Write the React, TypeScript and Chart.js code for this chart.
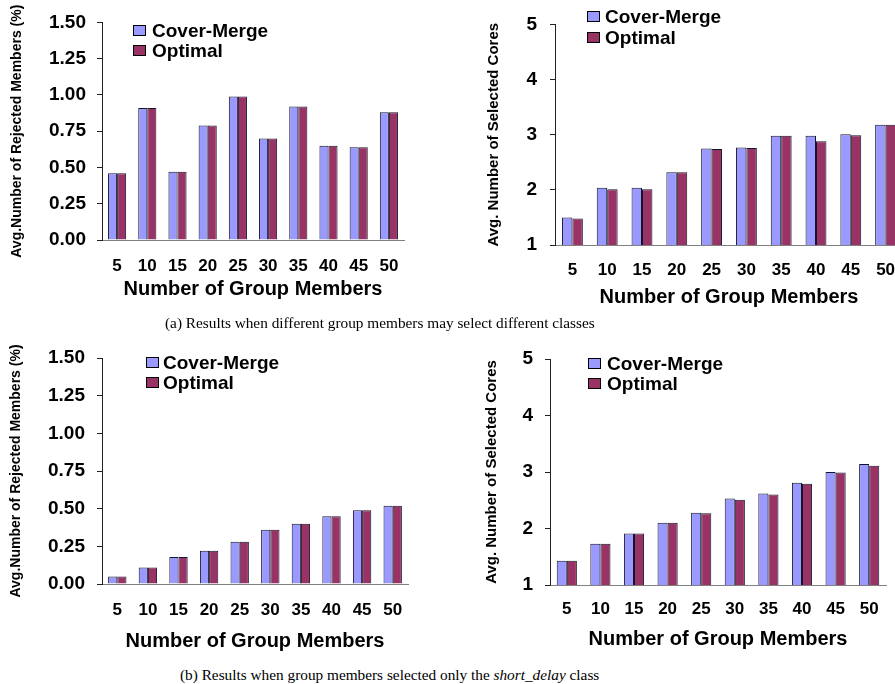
import React, { useEffect, useRef } from "react";
import { Chart, registerables } from "chart.js";

Chart.register(...registerables);

// ---------- data ----------
const groupMembers = ["5", "10", "15", "20", "25", "30", "35", "40", "45", "50"];
const seriesNames = ["Cover-Merge", "Optimal"];
const seriesColors = ["#9999FF", "#993366"];

// (a) different classes
const rejectedA_coverMerge = [0.46, 0.91, 0.47, 0.79, 0.99, 0.7, 0.92, 0.65, 0.64, 0.88];
const rejectedA_optimal = [0.46, 0.91, 0.47, 0.79, 0.99, 0.7, 0.92, 0.65, 0.64, 0.88];
const coresA_coverMerge = [1.5, 2.04, 2.04, 2.32, 2.75, 2.77, 2.98, 2.98, 3.01, 3.18];
const coresA_optimal = [1.48, 2.01, 2.01, 2.32, 2.74, 2.76, 2.98, 2.88, 2.99, 3.18];

// (b) short_delay class only
const rejectedB_coverMerge = [0.05, 0.11, 0.18, 0.22, 0.28, 0.36, 0.4, 0.45, 0.49, 0.52];
const rejectedB_optimal = [0.05, 0.11, 0.18, 0.22, 0.28, 0.36, 0.4, 0.45, 0.49, 0.52];
const coresB_coverMerge = [1.43, 1.73, 1.91, 2.1, 2.28, 2.53, 2.62, 2.81, 3.0, 3.14];
const coresB_optimal = [1.43, 1.73, 1.91, 2.1, 2.27, 2.51, 2.6, 2.79, 2.99, 3.11];

const rejectedTicks = [0, 0.25, 0.5, 0.75, 1.0, 1.25, 1.5];
const coresTicks = [1, 2, 3, 4, 5];

const xTitle = "Number of Group Members";
const rejectedTitle = "Avg.Number of Rejected Members (%)";
const coresTitle = "Avg. Number of Selected Cores";
const captionA = "(a) Results when different group members may select different classes";
const captionB1 = "(b) Results when group members selected only the ";
const captionB2 = "short_delay";
const captionB3 = " class";

const FONT = "'Liberation Sans', Arial, Helvetica, sans-serif";

// ---------- legend drawn inside the plot ----------
const insideLegend = {
  id: "insideLegend",
  afterDraw(chart: any, _args: any, opts: any) {
    const ctx = chart.ctx;
    ctx.save();
    ctx.font = `bold ${opts.fontSize}px ${FONT}`;
    ctx.textBaseline = "middle";
    ctx.textAlign = "left";
    chart.data.datasets.forEach((ds: any, i: number) => {
      const y = opts.y + i * opts.rowGap;
      ctx.fillStyle = ds.backgroundColor;
      ctx.fillRect(opts.x, y, opts.boxW, opts.boxH);
      ctx.strokeStyle = "#000";
      ctx.lineWidth = 1;
      ctx.strokeRect(opts.x + 0.5, y + 0.5, opts.boxW - 1, opts.boxH - 1);
      ctx.fillStyle = "#000";
      ctx.fillText(ds.label, opts.textX, y + opts.boxH / 2 + 1);
    });
    ctx.restore();
  },
};

type PanelSpec = {
  left: number;
  top: number;
  width: number;
  height: number;
  area: { left: number; right: number; top: number; bottom: number };
  yTicks: number[];
  decimals: number;
  yTitle: string;
  yTitleSize: number;
  yTickPad: number;
  yTitlePad: number;
  xTickPad: number;
  xTitlePad: number;
  legend: { x: number; y: number; rowGap: number; textX: number };
  cm: number[];
  opt: number[];
};

function Panel({ spec }: { spec: PanelSpec }) {
  const ref = useRef<HTMLCanvasElement | null>(null);
  useEffect(() => {
    if (!ref.current) return;
    const s = spec;
    const chart = new Chart(ref.current, {
      type: "bar",
      data: {
        labels: groupMembers,
        datasets: [
          {
            label: seriesNames[0],
            data: s.cm,
            backgroundColor: seriesColors[0],
            borderColor: "#15152a",
            borderWidth: 1,
            categoryPercentage: 0.6,
            barPercentage: 1.0,
          },
          {
            label: seriesNames[1],
            data: s.opt,
            backgroundColor: seriesColors[1],
            borderColor: "#15152a",
            borderWidth: 1,
            categoryPercentage: 0.6,
            barPercentage: 1.0,
          },
        ],
      },
      options: {
        animation: false,
        responsive: false,
        maintainAspectRatio: false,
        layout: {
          padding: {
            left: 0,
            top: s.area.top,
            right: s.width - s.area.right,
            bottom: 0,
          },
        },
        plugins: {
          legend: { display: false },
          tooltip: { enabled: false },
          insideLegend: {
            x: s.legend.x,
            y: s.legend.y,
            rowGap: s.legend.rowGap,
            textX: s.legend.textX,
            boxW: 13,
            boxH: 11,
            fontSize: 19,
          },
        } as any,
        scales: {
          x: {
            grid: { display: false, drawTicks: false },
            border: { display: true, color: "#808080", width: 1 },
            ticks: {
              color: "#000",
              padding: s.xTickPad,
              font: { family: FONT, size: 17, weight: "bold" },
              maxRotation: 0,
              autoSkip: false,
            },
            title: {
              display: true,
              text: xTitle,
              color: "#000",
              font: { family: FONT, size: 20, weight: "bold" },
              padding: { top: 0, bottom: s.xTitlePad },
            },
            afterFit: (scale: any) => {
              scale.height = s.height - s.area.bottom;
            },
          },
          y: {
            min: s.yTicks[0],
            max: s.yTicks[s.yTicks.length - 1],
            afterBuildTicks: (scale: any) => {
              scale.ticks = s.yTicks.map((v) => ({ value: v }));
            },
            grid: {
              display: true,
              drawOnChartArea: false,
              drawTicks: true,
              tickLength: 5,
              color: "#222",
            },
            border: { display: true, color: "#222", width: 1 },
            ticks: {
              color: "#000",
              padding: s.yTickPad,
              font: { family: FONT, size: 19, weight: "bold" },
              callback: (v: any) => Number(v).toFixed(s.decimals),
            },
            title: {
              display: true,
              text: s.yTitle,
              color: "#000",
              font: { family: FONT, size: s.yTitleSize, weight: "bold" },
              padding: { top: s.yTitlePad, bottom: 0 },
            },
            afterFit: (scale: any) => {
              scale.width = s.area.left;
            },
          },
        },
      } as any,
      plugins: [insideLegend as any],
    });
    return () => chart.destroy();
  }, [spec]);

  return (
    <canvas
      ref={ref}
      width={spec.width}
      height={spec.height}
      style={{
        position: "absolute",
        left: spec.left,
        top: spec.top,
        width: spec.width,
        height: spec.height,
      }}
    />
  );
}

const panels: PanelSpec[] = [
  {
    left: 0,
    top: 0,
    width: 430,
    height: 305,
    area: { left: 102, right: 404, top: 22, bottom: 240 },
    yTicks: rejectedTicks,
    decimals: 2,
    yTitle: rejectedTitle,
    yTitleSize: 14,
    yTickPad: 11,
    yTitlePad: 9,
    xTickPad: 16,
    xTitlePad: 4,
    legend: { x: 133, y: 25, rowGap: 20, textX: 152 },
    cm: rejectedA_coverMerge,
    opt: rejectedA_optimal,
  },
  {
    left: 450,
    top: 0,
    width: 470,
    height: 310,
    area: { left: 105, right: 453, top: 11, bottom: 245 },
    yTicks: coresTicks,
    decimals: 0,
    yTitle: coresTitle,
    yTitleSize: 15,
    yTickPad: 13,
    yTitlePad: 35,
    xTickPad: 15,
    xTitlePad: 1,
    legend: { x: 137, y: 11, rowGap: 21, textX: 155 },
    cm: coresA_coverMerge,
    opt: coresA_optimal,
  },
  {
    left: 0,
    top: 330,
    width: 430,
    height: 325,
    area: { left: 102, right: 408, top: 28, bottom: 254 },
    yTicks: rejectedTicks,
    decimals: 2,
    yTitle: rejectedTitle,
    yTitleSize: 14,
    yTickPad: 12,
    yTitlePad: 8,
    xTickPad: 16,
    xTitlePad: 2,
    legend: { x: 146, y: 27, rowGap: 20, textX: 163 },
    cm: rejectedB_coverMerge,
    opt: rejectedB_optimal,
  },
  {
    left: 450,
    top: 330,
    width: 445,
    height: 325,
    area: { left: 100, right: 436, top: 29, bottom: 255 },
    yTicks: coresTicks,
    decimals: 0,
    yTitle: coresTitle,
    yTitleSize: 15,
    yTickPad: 12,
    yTitlePad: 33,
    xTickPad: 14,
    xTitlePad: 4,
    legend: { x: 138, y: 28, rowGap: 20, textX: 157 },
    cm: coresB_coverMerge,
    opt: coresB_optimal,
  },
];

const captionStyle: React.CSSProperties = {
  position: "absolute",
  fontFamily: "'Liberation Serif', 'Times New Roman', serif",
  fontSize: 15.3,
  lineHeight: "18px",
  whiteSpace: "nowrap",
  color: "#000",
};

export default function App() {
  return (
    <div
      style={{
        position: "fixed",
        left: 0,
        top: 0,
        width: 895,
        height: 684,
        overflow: "hidden",
        background: "#fff",
      }}
    >
      {panels.map((p, i) => (
        <Panel key={i} spec={p} />
      ))}
      <div style={{ ...captionStyle, left: 165, top: 314 }}>{captionA}</div>
      <div style={{ ...captionStyle, left: 180, top: 666 }}>
        {captionB1}
        <i>{captionB2}</i>
        {captionB3}
      </div>
    </div>
  );
}
